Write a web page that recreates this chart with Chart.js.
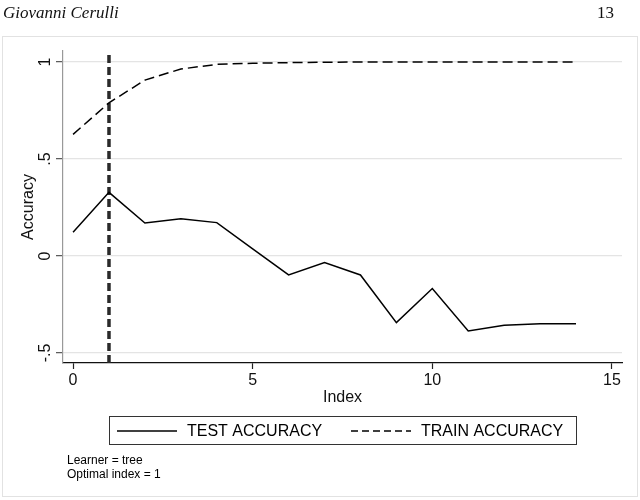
<!DOCTYPE html>
<html>
<head>
<meta charset="utf-8">
<script src="https://cdn.jsdelivr.net/npm/chart.js@4.4.1/dist/chart.umd.min.js"></script>
<style>
html,body{margin:0;padding:0;background:#fff;}
#wrap{position:absolute;left:0;top:0;width:640px;height:500px;}
</style>
</head>
<body>
<div id="wrap"><canvas id="c" width="640" height="500"></canvas></div>
<script>
// ---- data ----
const indexValues = [0, 1, 2, 3, 4, 5, 6, 7, 8, 9, 10, 11, 12, 13, 14];
const testAccuracy = [0.122, 0.328, 0.170, 0.192, 0.172, 0.037, -0.098, -0.034, -0.098, -0.344, -0.168, -0.387, -0.357, -0.349, -0.349];
const trainAccuracy = [0.627, 0.790, 0.907, 0.964, 0.988, 0.994, 0.997, 0.999, 1.0, 1.0, 1.0, 1.0, 1.0, 1.0, 1.0];
const optimalIndex = 1;
const xTickValues = [0, 5, 10, 15];
const yTickValues = [-0.5, 0, 0.5, 1];
const yTickLabels = ['-.5', '0', '.5', '1'];
const xRange = [-0.28, 15.28];
const yRange = [-0.552, 1.057];
const seriesNames = ['TEST ACCURACY', 'TRAIN ACCURACY'];
const noteLines = ['Learner = tree', 'Optimal index = 1'];
const headerLeft = 'Giovanni Cerulli';
const headerRight = '13';

const toPts = (ys) => indexValues.map((x, i) => ({x: x, y: ys[i]}));

const SANS = "'Liberation Sans', Arial, sans-serif";

const decor = {
  id: 'decor',
  beforeDraw(chart) {
    const ctx = chart.ctx;
    ctx.save();
    ctx.fillStyle = '#fff';
    ctx.fillRect(0, 0, 640, 500);
    ctx.strokeStyle = '#e2e2e2';
    ctx.lineWidth = 1;
    ctx.strokeRect(2.5, 36.5, 635, 460);
    ctx.restore();
  },
  afterDraw(chart) {
    const ctx = chart.ctx;
    const ys = chart.scales.y;
    const area = chart.chartArea;
    ctx.save();
    // header
    ctx.fillStyle = '#111';
    ctx.font = "italic 17px 'Liberation Serif', 'DejaVu Serif', serif";
    ctx.textBaseline = 'alphabetic';
    ctx.textAlign = 'left';
    ctx.fillText(headerLeft, 3, 18);
    ctx.font = "17px 'Liberation Serif', 'DejaVu Serif', serif";
    ctx.fillText(headerRight, 597, 18);

    // y tick labels rotated
    ctx.fillStyle = '#111';
    ctx.font = '16px ' + SANS;
    ctx.textAlign = 'center';
    ctx.textBaseline = 'middle';
    yTickValues.forEach((v, i) => {
      const py = ys.getPixelForValue(v);
      ctx.save();
      ctx.translate(46, py);
      ctx.rotate(-Math.PI / 2);
      ctx.fillText(yTickLabels[i], 0, 0);
      ctx.restore();
    });
    // y title
    ctx.save();
    ctx.translate(29, (area.top + area.bottom) / 2);
    ctx.rotate(-Math.PI / 2);
    ctx.font = '16px ' + SANS;
    ctx.fillText('Accuracy', 0, 0);
    ctx.restore();
    // x title
    ctx.font = '16px ' + SANS;
    ctx.fillText('Index', (area.left + area.right) / 2, 398);

    // legend box
    ctx.strokeStyle = '#333';
    ctx.lineWidth = 1;
    ctx.strokeRect(109.5, 416.5, 467, 28);
    ctx.strokeStyle = '#000';
    ctx.lineWidth = 1.5;
    ctx.beginPath();
    ctx.moveTo(117, 431); ctx.lineTo(177, 431);
    ctx.stroke();
    ctx.setLineDash([7, 4]);
    ctx.beginPath();
    ctx.moveTo(351, 431); ctx.lineTo(411, 431);
    ctx.stroke();
    ctx.setLineDash([]);
    ctx.fillStyle = '#000';
    ctx.font = '16px ' + SANS;
    ctx.textAlign = 'left';
    ctx.fillText(seriesNames[0], 187, 432);
    ctx.fillText(seriesNames[1], 421, 432);

    // notes
    ctx.font = '12px ' + SANS;
    noteLines.forEach((t, i) => ctx.fillText(t, 67, 461 + i * 13.5));
    ctx.restore();
  }
};

new Chart(document.getElementById('c'), {
  type: 'line',
  data: {
    datasets: [
      {
        label: seriesNames[0],
        data: toPts(testAccuracy),
        borderColor: '#000',
        borderWidth: 1.5,
        pointRadius: 0,
        tension: 0,
        fill: false
      },
      {
        label: seriesNames[1],
        data: toPts(trainAccuracy),
        borderColor: '#000',
        borderWidth: 1.5,
        borderDash: [10, 5],
        pointRadius: 0,
        tension: 0,
        fill: false
      },
      {
        label: 'optimal',
        data: [{x: optimalIndex, y: yRange[0]}, {x: optimalIndex, y: yRange[1]}],
        borderColor: '#2a2a2a',
        borderWidth: 3.5,
        borderDash: [8, 4],
        pointRadius: 0,
        fill: false
      }
    ]
  },
  options: {
    responsive: false,
    animation: false,
    devicePixelRatio: 1,
    layout: {padding: {left: 0, top: 51, right: 18, bottom: 0}},
    plugins: {legend: {display: false}, tooltip: {enabled: false}},
    scales: {
      x: {
        type: 'linear',
        min: xRange[0],
        max: xRange[1],
        afterBuildTicks: (s) => { s.ticks = xTickValues.map(v => ({value: v})); },
        afterFit: (s) => { s.height = 137; },
        ticks: {
          callback: (v) => String(v),
          font: {size: 16, family: SANS},
          color: '#111',
          padding: 2,
          maxRotation: 0,
          autoSkip: false
        },
        grid: {drawOnChartArea: false, tickLength: 6, tickColor: '#222', tickWidth: 1.2},
        border: {color: '#111', width: 1.3}
      },
      y: {
        type: 'linear',
        min: yRange[0],
        max: yRange[1],
        afterBuildTicks: (s) => { s.ticks = yTickValues.map(v => ({value: v})); },
        afterFit: (s) => { s.width = 63; },
        ticks: {display: false},
        grid: {color: '#e4e4e4', lineWidth: 1.3, tickLength: 7, tickColor: '#555', tickWidth: 1.2},
        border: {color: '#999', width: 1.2}
      }
    }
  },
  plugins: [decor]
});
</script>
</body>
</html>
